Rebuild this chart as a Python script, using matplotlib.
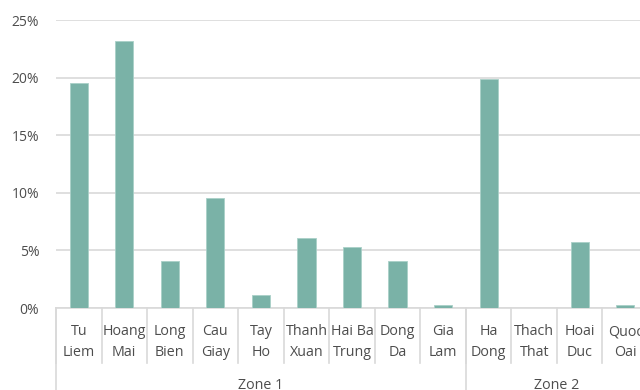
import matplotlib.pyplot as plt
import matplotlib.transforms as mtransforms

# district shares
districts = ["Tu\nLiem", "Hoang\nMai", "Long\nBien", "Cau\nGiay", "Tay\nHo",
             "Thanh\nXuan", "Hai Ba\nTrung", "Dong\nDa", "Gia\nLam",
             "Ha\nDong", "Thach\nThat", "Hoai\nDuc", "Quoc\nOai"]
shares = [19.5, 23.15, 4.05, 9.55, 1.13, 6.1, 5.27, 4.05, 0.3,
          19.9, 0.0, 5.76, 0.3]
zones = ["Zone 1", "Zone 2"]
zone_sizes = [9, 4]

bar_color = "#7ab2a7"
grid_color = "#d9d9d9"
text_color = "#4d4d4d"

plt.rcParams['font.family'] = ['Open Sans', 'DejaVu Sans']

fig = plt.figure(figsize=(6.4, 3.9), dpi=100)
ax = fig.add_axes([56 / 640, 82 / 390, 592 / 640, 288 / 390])

x = list(range(len(districts)))
ax.bar(x, shares, width=0.4, color=bar_color, edgecolor="#a9d0c8",
       linewidth=0.6, zorder=3)

ax.set_xlim(-0.5, len(districts) - 0.5)
ax.set_ylim(0, 25)
ax.set_yticks([0, 5, 10, 15, 20, 25])
ax.set_yticklabels([f"{v}%" for v in [0, 5, 10, 15, 20, 25]])
ax.tick_params(axis="y", length=0, pad=12, labelsize=10, labelcolor=text_color)
ax.set_xticks([])
ax.grid(axis="y", color=grid_color, linewidth=1.2, zorder=0)
for s in ["top", "right", "left"]:
    ax.spines[s].set_visible(False)
ax.spines["bottom"].set_color(grid_color)
ax.spines["bottom"].set_linewidth(1.2)

trans = mtransforms.blended_transform_factory(ax.transData, ax.transAxes)

# category labels and short separators
for i, name in enumerate(districts):
    ax.text(i, -0.118, name, transform=trans, ha="center", va="center",
            fontsize=10.3, color=text_color, linespacing=1.5)
    ax.plot([i - 0.5, i - 0.5], [0, -0.19], transform=trans, color=grid_color,
            linewidth=1.2, clip_on=False)
ax.plot([len(districts) - 0.5] * 2, [0, -0.19], transform=trans,
        color=grid_color, linewidth=1.2, clip_on=False)

# zone labels and long separators
start = 0
for zone, size in zip(zones, zone_sizes):
    ax.plot([start - 0.5, start - 0.5], [0, -0.32], transform=trans,
            color=grid_color, linewidth=1.2, clip_on=False)
    ax.text(start + (size - 1) / 2, -0.268, zone, transform=trans,
            ha="center", va="center", fontsize=10.3, color=text_color)
    start += size

fig.savefig("out.png", dpi=100)
